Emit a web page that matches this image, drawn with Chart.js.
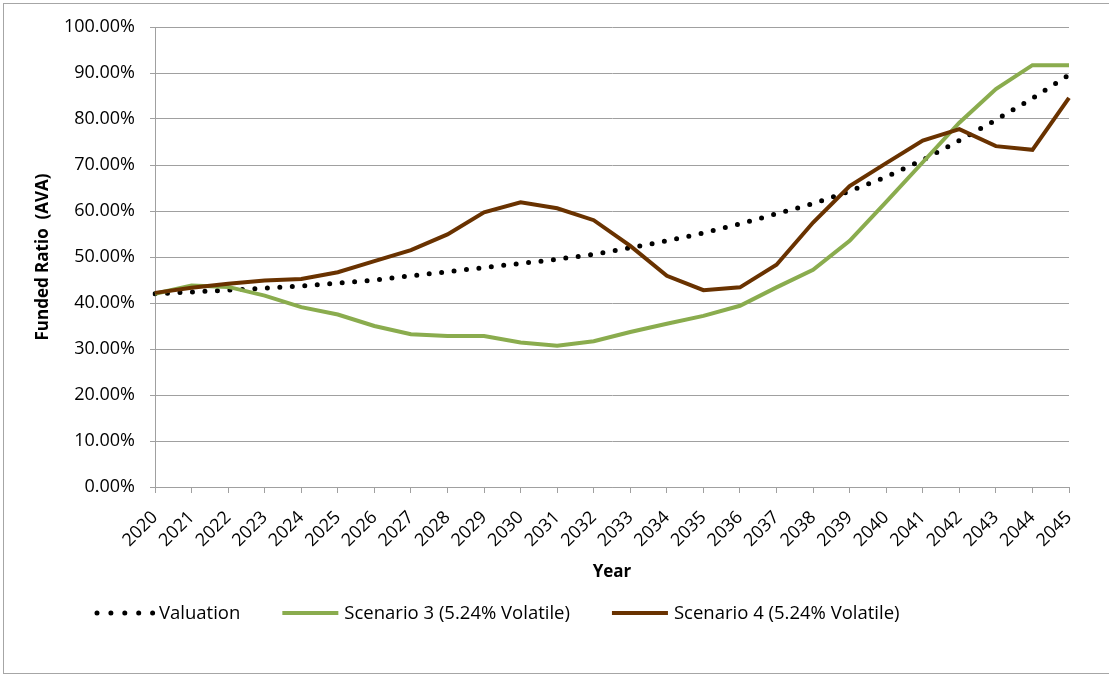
<!DOCTYPE html>
<html>
<head>
<meta charset="utf-8">
<title>Funded Ratio (AVA)</title>
<script src="https://cdn.jsdelivr.net/npm/chart.js@4.4.0/dist/chart.umd.min.js"></script>
<style>
  html, body { margin: 0; padding: 0; background: #fff; }
  #wrap { width: 1109px; height: 675px; }
</style>
</head>
<body>
<div id="wrap"><canvas id="fundedChart" width="1109" height="675"></canvas></div>
<script>
const years = [
  "2020", "2021", "2022", "2023", "2024", "2025", "2026", "2027", "2028",
  "2029", "2030", "2031", "2032", "2033", "2034", "2035", "2036", "2037",
  "2038", "2039", "2040", "2041", "2042", "2043", "2044", "2045",
];

// funded ratio, in percent
const valuation = [
  42.0, 42.4, 42.8, 43.2, 43.7, 44.3, 45.0, 45.9, 46.8, 47.7, 48.6, 49.5, 50.6,
  52.0, 53.5, 55.2, 57.2, 59.4, 61.6, 64.3, 67.4, 71.1, 75.3, 79.8, 84.5, 89.6,
];
const scenario3 = [
  42.0, 43.8, 43.5, 41.6, 39.1, 37.5, 35.0, 33.2, 32.8, 32.8, 31.4, 30.7, 31.7,
  33.7, 35.5, 37.2, 39.4, 43.4, 47.2, 53.5, 62.0, 70.6, 79.2, 86.5, 91.7, 91.7,
];
const scenario4 = [
  42.2, 43.3, 44.2, 44.9, 45.2, 46.7, 49.1, 51.5, 54.9, 59.7, 61.9, 60.6, 58.0,
  52.4, 45.9, 42.8, 43.4, 48.3, 57.5, 65.4, 70.4, 75.3, 77.8, 74.1, 73.3, 84.6,
];

const seriesNames = ["Valuation", "Scenario 3 (5.24% Volatile)", "Scenario 4 (5.24% Volatile)"];

const FONT = "'Open Sans', 'DejaVu Sans', sans-serif";
const GRID = "#a0a0a0";

Chart.defaults.font.family = FONT;
Chart.defaults.color = "#000";

// white page + the thin frame round the chart
const frame = {
  id: "frame",
  beforeDraw(chart) {
    const { ctx, width, height } = chart;
    ctx.save();
    ctx.fillStyle = "#fff";
    ctx.fillRect(0, 0, width, height);
    ctx.strokeStyle = "#a6a6a6";
    ctx.lineWidth = 1;
    ctx.strokeRect(3.5, 3.5, width + 10, height - 5);
    ctx.restore();
  },
};

// excel style legend row under the axis title
const bottomLegend = {
  id: "bottomLegend",
  afterDraw(chart) {
    const ctx = chart.ctx;
    const y = 613;
    let x = 97;
    ctx.save();
    ctx.font = `18.5px ${FONT}`;
    ctx.textBaseline = "middle";
    chart.data.datasets.forEach((ds) => {
      ctx.beginPath();
      ctx.strokeStyle = ds.borderColor;
      ctx.lineWidth = ds.borderWidth;
      ctx.lineCap = ds.borderCapStyle || "butt";
      ctx.setLineDash(ds.legendDash || []);
      ctx.moveTo(x, y);
      ctx.lineTo(x + 56, y);
      ctx.stroke();
      ctx.setLineDash([]);
      ctx.fillStyle = "#000";
      ctx.fillText(ds.label, x + 62, y + 1);
      x += 62 + ctx.measureText(ds.label).width + 42;
    });
    ctx.restore();
  },
};

const ctx = document.getElementById("fundedChart");

new Chart(ctx, {
  type: "line",
  data: {
    labels: years,
    datasets: [
      {
        label: seriesNames[0],
        data: valuation,
        borderColor: "#000",
        borderWidth: 5,
        borderDash: [0, 12.5],
        legendDash: [0, 13.9],
        borderCapStyle: "round",
        pointRadius: 0,
        tension: 0,
        order: 3,
      },
      {
        label: seriesNames[1],
        data: scenario3,
        borderColor: "#8aac4e",
        borderWidth: 4,
        pointRadius: 0,
        tension: 0,
        order: 2,
      },
      {
        label: seriesNames[2],
        data: scenario4,
        borderColor: "#693200",
        borderWidth: 4,
        pointRadius: 0,
        tension: 0,
        order: 1,
      },
    ],
  },
  options: {
    responsive: false,
    animation: false,
    layout: { padding: { top: 27, right: 40, bottom: 87, left: 0 } },
    plugins: {
      legend: { display: false },
      tooltip: { enabled: false },
    },
    scales: {
      x: {
        offset: false,
        afterFit: (scale) => { scale.height = 101; },
        grid: {
          drawOnChartArea: false,
          drawTicks: true,
          tickLength: 6,
          color: GRID,
        },
        border: { color: GRID },
        ticks: {
          autoSkip: false,
          maxRotation: 45,
          minRotation: 45,
          padding: 14,
          font: { size: 18 },
        },
        title: {
          display: true,
          text: "Year",
          font: { size: 17, weight: "bold" },
          padding: { top: 4, bottom: 6 },
        },
      },
      y: {
        min: 0,
        max: 100,
        afterFit: (scale) => { scale.width = 155; },
        grid: { color: GRID, tickLength: 5 },
        border: { color: GRID },
        ticks: {
          stepSize: 10,
          padding: 15,
          font: { size: 18 },
          callback: (v) => `${v.toFixed(2)}%`,
        },
        title: {
          display: true,
          text: "Funded Ratio  (AVA)",
          font: { size: 17, weight: "bold" },
          padding: { top: 33, bottom: 0 },
        },
      },
    },
  },
  plugins: [frame, bottomLegend],
});
</script>
</body>
</html>
